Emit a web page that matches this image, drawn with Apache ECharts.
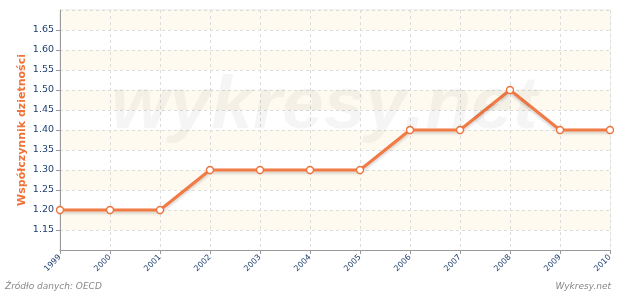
<!DOCTYPE html>
<html><head><meta charset="utf-8">
<script src="https://cdn.jsdelivr.net/npm/echarts@6/dist/echarts.min.js"></script>
<style>html,body{margin:0;padding:0;background:#fff}#c{width:620px;height:292px}</style>
</head><body><div id="c"></div>
<script>
const years = ['1999','2000','2001','2002','2003','2004','2005','2006','2007','2008','2009','2010'];
const fertility = [1.20,1.20,1.20,1.30,1.30,1.30,1.30,1.40,1.40,1.50,1.40,1.40];
const yMin = 1.10, yMax = 1.70, yStep = 0.05;
const yTitle = 'Współczynnik dzietności';
const sourceText = 'Źródło danych: OECD';
const brandText = 'Wykresy.net';
const watermark = 'wykresy.net';

const chart = echarts.init(document.getElementById('c'), null, {renderer:'canvas'});
chart.setOption({
  animation:false,
  backgroundColor:'#fff',
  grid:{left:60,right:10,top:10,bottom:42,show:true,borderColor:'#e4e4e4',borderWidth:1},
  graphic:[
    {type:'text',left:111,top:70,z:100,silent:true,style:{text:watermark,font:'italic bold 75px "Liberation Sans", Arial, sans-serif',fill:'rgba(0,0,0,0.04)'}},
    {type:'text',x:22,y:130,rotation:Math.PI/2,style:{text:yTitle,font:'bold 11px "DejaVu Sans", sans-serif',fill:'#f07238',align:'center',verticalAlign:'middle'}},
    {type:'text',left:5,top:282,style:{text:sourceText,font:'italic 9px "DejaVu Sans", sans-serif',fill:'#888'}},
    {type:'text',right:9,top:282,style:{text:brandText,font:'italic 9px "DejaVu Sans", sans-serif',fill:'#888'}}
  ],
  xAxis:{
    type:'category',data:years,boundaryGap:false,
    axisLine:{lineStyle:{color:'#999',width:1}},
    axisTick:{show:true,length:4,lineStyle:{color:'#999'}},
    axisLabel:{rotate:45,fontSize:8,color:'#1f3f6f',fontFamily:'DejaVu Sans',margin:6,interval:0},
    splitLine:{show:true,lineStyle:{color:'#dcdcdc',type:[3,3]}}
  },
  yAxis:{
    type:'value',min:yMin,max:yMax,interval:yStep,
    axisLine:{show:true,lineStyle:{color:'#999',width:1}},
    axisTick:{show:true,length:4,lineStyle:{color:'#999'}},
    axisLabel:{fontSize:9.5,color:'#1f3f6f',fontFamily:'DejaVu Sans',margin:6,
      showMinLabel:false,showMaxLabel:false,
      formatter:v=>v.toFixed(2)},
    splitLine:{show:true,lineStyle:{color:'#dcdcdc',type:[3,3]}},
    splitArea:{show:true,areaStyle:{color:['#ffffff','#fffaef']}}
  },
  series:[{
    type:'line',data:fertility,
    lineStyle:{color:'#f27a45',width:3,shadowColor:'rgba(0,0,0,0.18)',shadowBlur:3,shadowOffsetY:2},
    symbol:'circle',symbolSize:7,
    itemStyle:{color:'#fff',borderColor:'#f07238',borderWidth:1.3},
    z:5
  }]
});
</script></body></html>
